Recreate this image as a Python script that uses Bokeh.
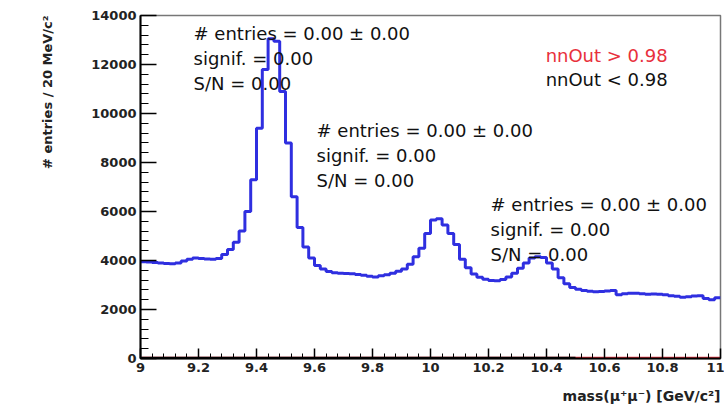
import numpy as np
from bokeh.plotting import figure
from bokeh.models import Range1d, FixedTicker, Label, Title
from bokeh.embed import file_html
from bokeh.resources import INLINE

# Dimuon invariant mass, 20 MeV bins from 9.0 to 11.0 GeV/c^2
bin_lo = 9.0
bin_width = 0.02
all_counts = [
    3950, 3940, 3920, 3900, 3880, 3870, 3900, 3980, 4050, 4100,
    4080, 4060, 4050, 4080, 4250, 4450, 4750, 5200, 6000, 7300,
    9400, 11800, 13050, 12950, 10900, 8800, 6600, 5350, 4550, 4100,
    3800, 3650, 3550, 3500, 3480, 3470, 3460, 3430, 3400, 3360,
    3330, 3380, 3420, 3480, 3560, 3650, 3850, 4150, 4500, 5100,
    5650, 5700, 5450, 5100, 4650, 4050, 3700, 3450, 3320, 3230,
    3180, 3170, 3220, 3330, 3480, 3680, 3900, 4100, 4150, 4120,
    3900, 3650, 3300, 3050, 2900, 2830, 2780, 2740, 2720, 2730,
    2760, 2780, 2600, 2640, 2660, 2660, 2640, 2620, 2630, 2620,
    2600, 2560, 2540, 2500, 2520, 2550, 2560, 2450, 2400, 2480,
]
# nnOut > 0.98 (red) and nnOut < 0.98 (black): empty histograms
high_nn_counts = [0] * 100
low_nn_counts = [0] * 75

x_ticks = [9.0, 9.2, 9.4, 9.6, 9.8, 10.0, 10.2, 10.4, 10.6, 10.8, 11.0]
x_tick_labels = ["9", "9.2", "9.4", "9.6", "9.8", "10", "10.2", "10.4", "10.6", "10.8", "11"]
y_ticks = [0, 2000, 4000, 6000, 8000, 10000, 12000, 14000]

stat_lines = ["# entries = 0.00 \u00b1 0.00", "signif. = 0.00", "S/N = 0.00"]
stat_box_x = [9.183, 9.607, 10.207]
stat_box_y = [13265, 9306, 6286]
legend_texts = ["nnOut > 0.98", "nnOut < 0.98"]
legend_colors = ["#e8303c", "#111111"]

FONT = "DejaVu Sans"


def outline(counts):
    """Turn bin contents into the x/y vertices of a stepped histogram outline."""
    counts = np.asarray(counts, dtype=float)
    edges = bin_lo + bin_width * np.arange(len(counts) + 1)
    xs = np.repeat(edges, 2)[1:-1]
    ys = np.repeat(counts, 2)
    return xs, ys


p = figure(width=724, height=416, output_backend="svg", toolbar_location=None,
           x_range=Range1d(9.0, 11.0), y_range=Range1d(0, 14000),
           min_border_left=140, min_border_right=4, min_border_top=15,
           min_border_bottom=58)
p.background_fill_color = "white"
p.border_fill_color = "white"
p.grid.visible = False
p.outline_line_color = "#777777"
p.outline_line_width = 1.5

for ax in (p.xaxis[0], p.yaxis[0]):
    ax.axis_line_color = "black"
    ax.axis_line_width = 2
    ax.major_tick_line_color = "black"
    ax.minor_tick_line_color = "black"
    ax.major_tick_line_width = 1.5
    ax.major_tick_out = 0
    ax.minor_tick_out = 0
    ax.major_label_text_font = FONT
    ax.major_label_text_font_size = "13px"
    ax.major_label_text_font_style = "bold"
    ax.major_label_text_color = "#222222"

p.yaxis.major_tick_in = 16
p.yaxis.minor_tick_in = 8
p.yaxis.ticker = FixedTicker(ticks=y_ticks,
                             minor_ticks=list(range(0, 14001, 400)))
p.yaxis.major_label_standoff = 4

p.xaxis.major_tick_in = 10
p.xaxis.minor_tick_in = 5
p.xaxis.ticker = FixedTicker(ticks=x_ticks,
                             minor_ticks=[round(9 + 0.04 * i, 2) for i in range(51)])
p.xaxis.major_label_overrides = {t: s for t, s in zip(x_ticks, x_tick_labels)}
p.xaxis.major_label_standoff = 4

# zero-level histograms along the axis
hx, hy = outline(high_nn_counts)
p.line(hx, hy, line_color="#e8303c", line_width=3.5)
lx, ly = outline(low_nn_counts)
p.line(lx, ly, line_color="black", line_width=3.5)

# full sample
ax_, ay_ = outline(all_counts)
p.line(ax_, ay_, line_color="#2f2fe0", line_width=3)

line_step = 1020
for bx, by in zip(stat_box_x, stat_box_y):
    for i, txt in enumerate(stat_lines):
        p.add_layout(Label(x=bx, y=by - i * line_step, text=txt,
                           text_font=FONT, text_font_size="18px",
                           text_baseline="middle", text_align="left",
                           text_color="#111111"))

for i, (txt, col) in enumerate(zip(legend_texts, legend_colors)):
    p.add_layout(Label(x=10.397, y=12367 - i * 980, text=txt,
                       text_font=FONT, text_font_size="18px",
                       text_baseline="middle", text_align="left",
                       text_color=col))

# axis titles in ROOT style: right-aligned at the axis end
p.add_layout(Title(text="mass(\u03bc\u207a\u03bc\u207b) [GeV/c\u00b2]", align="right",
                   text_font=FONT, text_font_size="14px", text_font_style="bold",
                   text_color="#222222", standoff=22), "below")
p.add_layout(Title(text="# entries / 20 MeV/c\u00b2", align="right",
                   text_font=FONT, text_font_size="13px", text_font_style="bold",
                   text_color="#222222", standoff=68), "left")

open("out.html", "w").write(file_html(p, INLINE))
